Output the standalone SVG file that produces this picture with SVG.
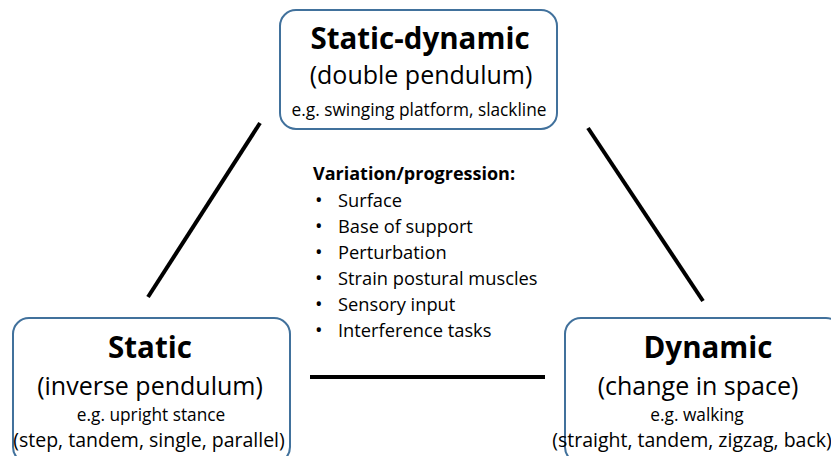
<svg xmlns="http://www.w3.org/2000/svg" width="831" height="456" viewBox="0 0 831 456">
<style>
.box{fill:#fff;stroke:#41719c;stroke-width:2}
text{font-family:"Open Sans","Noto Sans","Liberation Sans",sans-serif;fill:#000;text-anchor:middle}
.t{font-weight:bold;font-size:29.5px}
.s{font-size:25px}
.e{font-size:17.3px}
.p{font-size:19.5px}
.l{text-anchor:start;font-size:18.3px}
.b{font-size:20px}
.lb{text-anchor:start;font-size:18px;font-weight:bold}
.c{stroke:#000;stroke-width:4;fill:none}
</style>
<rect width="831" height="456" fill="#fff"/>
<g id="connectors">
<line class="c" x1="260" y1="123" x2="148" y2="297"/>
<line class="c" x1="588" y1="128" x2="703" y2="301"/>
<line class="c" x1="310" y1="377" x2="545" y2="377"/>
</g>
<g id="static-dynamic">
<rect class="box" x="280" y="10" width="277" height="119" rx="16"/>
<text class="t" x="420" y="49">Static-dynamic</text>
<text class="s" x="421" y="84">(double pendulum)</text>
<text class="e" x="419" y="116">e.g. swinging platform, slackline</text>
</g>
<g id="static">
<rect class="box" x="13" y="318" width="277" height="145" rx="16"/>
<text class="t" x="150" y="358">Static</text>
<text class="s" x="150" y="395">(inverse pendulum)</text>
<text class="e" x="151" y="421">e.g. upright stance</text>
<text class="p" x="149" y="447">(step, tandem, single, parallel)</text>
</g>
<g id="dynamic">
<rect class="box" x="565" y="318" width="277" height="145" rx="16"/>
<text class="t" x="708" y="358">Dynamic</text>
<text class="s" x="698" y="395">(change in space)</text>
<text class="e" x="697" y="421">e.g. walking</text>
<text class="p" x="692" y="447">(straight, tandem, zigzag, back)</text>
</g>
<g id="variation">
<text class="lb" x="313" y="180">Variation/progression:</text>
<text class="l" x="315" y="207"><tspan class="b">•</tspan><tspan x="338">Surface</tspan></text>
<text class="l" x="315" y="233"><tspan class="b">•</tspan><tspan x="338">Base of support</tspan></text>
<text class="l" x="315" y="259"><tspan class="b">•</tspan><tspan x="338">Perturbation</tspan></text>
<text class="l" x="315" y="285"><tspan class="b">•</tspan><tspan x="338">Strain postural muscles</tspan></text>
<text class="l" x="315" y="311"><tspan class="b">•</tspan><tspan x="338">Sensory input</tspan></text>
<text class="l" x="315" y="337"><tspan class="b">•</tspan><tspan x="338">Interference tasks</tspan></text>
</g>
</svg>
